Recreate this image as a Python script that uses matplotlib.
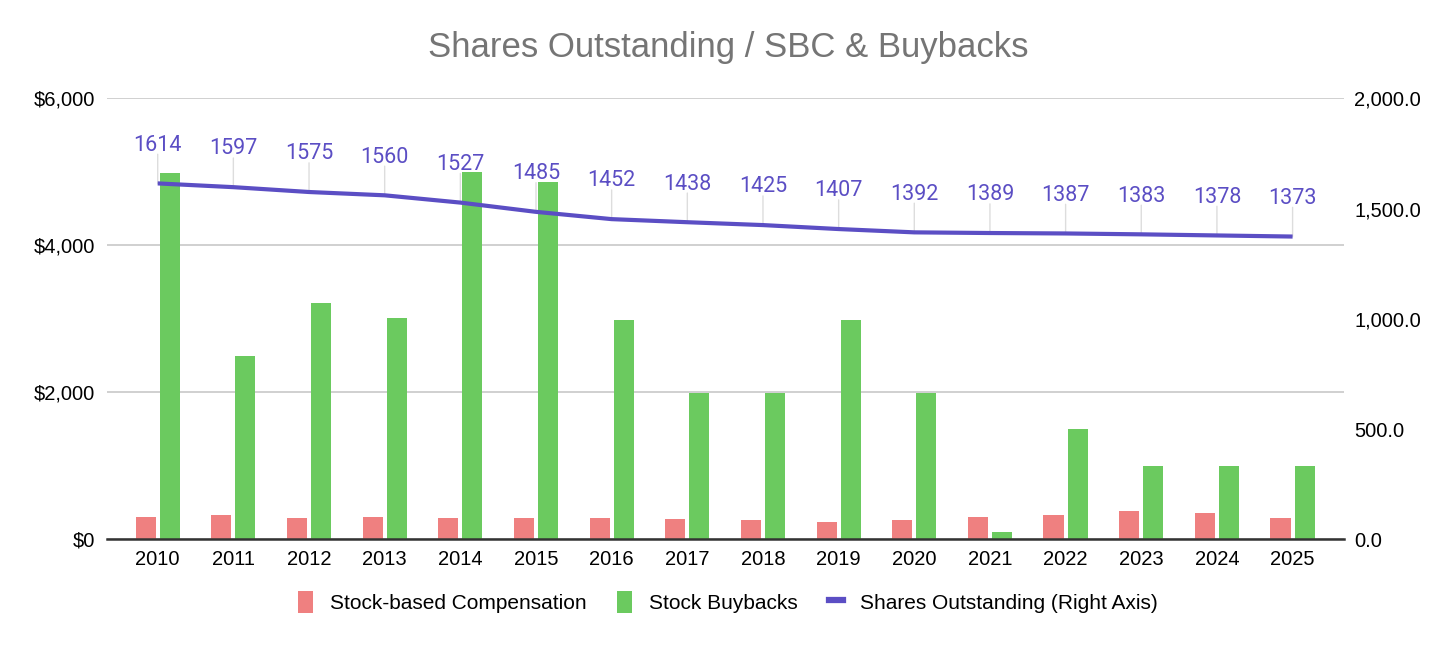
import matplotlib
matplotlib.use("Agg")
import matplotlib.pyplot as plt
from matplotlib.patches import Patch
from matplotlib.lines import Line2D
import numpy as np

# data
years = ["2010", "2011", "2012", "2013", "2014", "2015", "2016", "2017",
         "2018", "2019", "2020", "2021", "2022", "2023", "2024", "2025"]
sbc = [310, 330, 285, 305, 285, 285, 285, 280, 260, 235, 260, 310, 330, 380, 355, 285]
buybacks = [4980, 2490, 3220, 3010, 5000, 4860, 2990, 1990, 1990, 2990, 1990, 100, 1500, 1000, 1000, 1000]
shares = [1614, 1597, 1575, 1560, 1527, 1485, 1452, 1438, 1425, 1407, 1392, 1389, 1387, 1383, 1378, 1373]

left_ticks = [0, 2000, 4000, 6000]
left_labels = ["$0", "$2,000", "$4,000", "$6,000"]
right_ticks = [0, 500, 1000, 1500, 2000]
right_labels = ["0.0", "500.0", "1,000.0", "1,500.0", "2,000.0"]

red = "#ef8080"
green = "#6bca5f"
purple = "#5b4ec4"
tickfont = "Liberation Sans"

x = np.arange(len(years))

fig = plt.figure(figsize=(14.56, 6.45), dpi=100)
ax = fig.add_axes([0.0735, 0.1639, 0.8496, 0.6837])

ax.bar(x - 0.16, sbc, width=0.265, color=red, zorder=3)
ax.bar(x + 0.16, buybacks, width=0.265, color=green, zorder=3)

ax.set_xlim(-0.67, 15.68)
ax.set_ylim(0, 6000)
ax.set_yticks(left_ticks)
ax.set_yticklabels(left_labels)
ax.set_xticks(x)
ax.set_xticklabels(years)
ax.grid(axis="y", color="#c8c8c8", linewidth=1.2, zorder=0)
for s in ["top", "right", "left"]:
    ax.spines[s].set_visible(False)
ax.spines["bottom"].set_color("#333333")
ax.spines["bottom"].set_linewidth(1.8)
ax.spines["bottom"].set_zorder(5)
ax.tick_params(axis="y", length=0, pad=8.6, labelsize=14.5)
ax.tick_params(axis="x", length=0, pad=8, labelsize=14.5)
for lab in ax.get_xticklabels() + ax.get_yticklabels():
    lab.set_fontfamily(tickfont)

# line on the right axis
ax2 = ax.twinx()
ax2.set_ylim(0, 2000)
ax2.set_yticks(right_ticks)
ax2.set_yticklabels(right_labels)
for s in ["top", "right", "left", "bottom"]:
    ax2.spines[s].set_visible(False)
ax2.tick_params(axis="y", length=0, pad=7.2, labelsize=14.5)
for lab in ax2.get_yticklabels():
    lab.set_fontfamily(tickfont)

ax2.plot(x, shares, color=purple, linewidth=3, solid_capstyle="butt", zorder=4)

# value labels with thin leader lines
for xi, v in zip(x, shares):
    ax2.annotate("", xy=(xi, v), xytext=(0, 21), textcoords="offset points",
                 arrowprops=dict(arrowstyle="-", color="#dddddd", lw=1,
                                 shrinkA=0, shrinkB=0), zorder=2)
    ax2.annotate(str(v), xy=(xi, v), xytext=(0, 27.5), textcoords="offset points",
                 ha="center", va="center", color=purple, fontsize=15.5,
                 fontfamily="Roboto", zorder=6)

fig.text(0.5, 1 - 48 / 645, "Shares Outstanding / SBC & Buybacks", ha="center",
         va="center", fontsize=25, color="#757575", fontfamily=tickfont)

handles = [Patch(facecolor=red, edgecolor="none"),
           Patch(facecolor=green, edgecolor="none"),
           Line2D([0], [0], color=purple, linewidth=4.5)]
labels = ["Stock-based Compensation", "Stock Buybacks", "Shares Outstanding (Right Axis)"]
fig.legend(handles, labels, loc="center", bbox_to_anchor=(0.5, 1 - 602 / 645), ncol=3,
           frameon=False, handlelength=0.7, handleheight=1.3, handletextpad=0.8,
           columnspacing=1.5, prop={"family": tickfont, "size": 15})

fig.savefig("out.png", dpi=100)
